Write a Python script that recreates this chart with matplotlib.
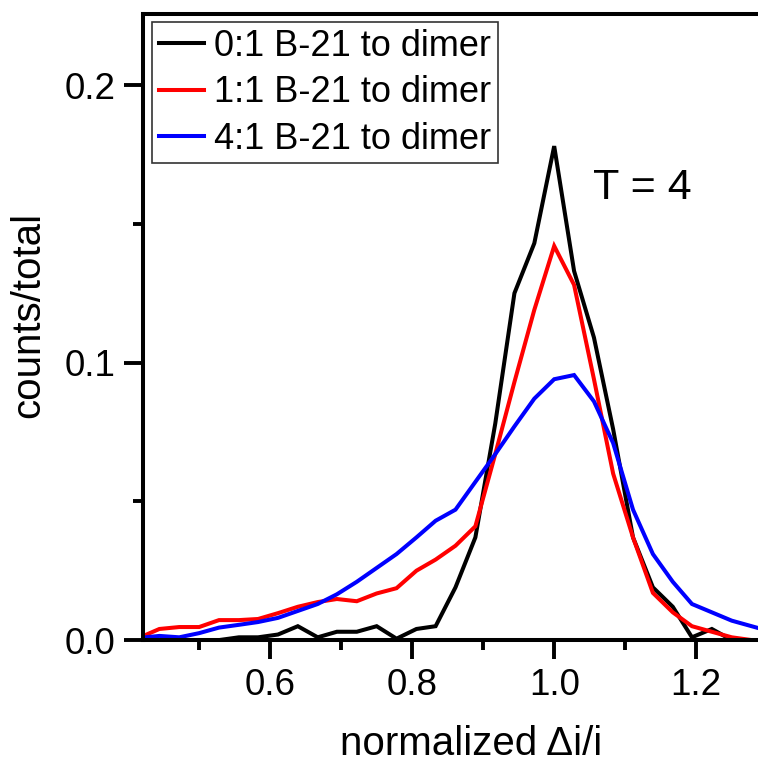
import matplotlib
matplotlib.use("Agg")
import matplotlib.pyplot as plt
from matplotlib.ticker import MultipleLocator

plt.rcParams['font.family'] = ['Liberation Sans', 'DejaVu Sans']

# bin centres of the normalized current drop histogram
x = [0.417, 0.444, 0.472, 0.500, 0.528, 0.556, 0.583, 0.611, 0.639, 0.667,
     0.694, 0.722, 0.750, 0.778, 0.806, 0.833, 0.861, 0.889, 0.917, 0.944,
     0.972, 1.000, 1.028, 1.056, 1.083, 1.111, 1.139, 1.167, 1.194, 1.222,
     1.250, 1.278, 1.306]

ratio_0_1 = [0.0, 0.0, 0.0, 0.0, 0.0, 0.001, 0.001, 0.002, 0.005, 0.001,
             0.003, 0.003, 0.005, 0.0005, 0.004, 0.005, 0.019, 0.037, 0.078, 0.125,
             0.143, 0.178, 0.133, 0.109, 0.076, 0.037, 0.019, 0.012, 0.001, 0.004,
             0.0, 0.0, 0.0]

ratio_1_1 = [0.001, 0.004, 0.0047, 0.0047, 0.0072, 0.0072, 0.0076, 0.0097, 0.012, 0.0137,
             0.0148, 0.014, 0.0168, 0.0187, 0.025, 0.029, 0.034, 0.041, 0.067, 0.093,
             0.119, 0.142, 0.128, 0.094, 0.060, 0.037, 0.017, 0.010, 0.005, 0.003,
             0.001, 0.0, 0.0]

ratio_4_1 = [0.0008, 0.0015, 0.001, 0.0025, 0.0045, 0.0055, 0.0065, 0.008, 0.0105, 0.013,
             0.0165, 0.021, 0.026, 0.031, 0.037, 0.043, 0.047, 0.057, 0.067, 0.077,
             0.087, 0.094, 0.0955, 0.086, 0.071, 0.047, 0.031, 0.021, 0.013, 0.010,
             0.007, 0.005, 0.003]

labels = ['0:1 B-21 to dimer', '1:1 B-21 to dimer', '4:1 B-21 to dimer']
colors = ['black', '#ff0000', '#0000ff']

fig = plt.figure(figsize=(7.58, 7.62), dpi=100)
ax = fig.add_axes([0.1887, 0.160, 0.8113, 0.8216])

for y, lab, c in zip([ratio_0_1, ratio_1_1, ratio_4_1], labels, colors):
    ax.plot(x, y, color=c, lw=2.9, label=lab, solid_joinstyle='miter')

ax.set_xlim(0.421, 1.287)
ax.set_ylim(0.0, 0.2256)

ax.xaxis.set_minor_locator(MultipleLocator(0.1))
ax.yaxis.set_minor_locator(MultipleLocator(0.05))
ax.set_xticks([0.6, 0.8, 1.0, 1.2])
ax.set_xticklabels(['0.6', '0.8', '1.0', '1.2'])
ax.set_yticks([0.0, 0.1, 0.2])
ax.set_yticklabels(['0.0', '0.1', '0.2'])

ax.tick_params(which='major', direction='out', length=14, width=2.8,
               labelsize=26.5, pad=6)
ax.tick_params(which='minor', direction='out', length=7, width=2.8)

for side in ['left', 'bottom', 'top']:
    ax.spines[side].set_linewidth(2.9)
ax.spines['right'].set_visible(False)

ax.set_xlabel('normalized \u0394i/i', fontsize=29)
ax.set_ylabel('counts/total', fontsize=29)
ax.xaxis.set_label_coords(0.533, -0.135)
ax.yaxis.set_label_coords(-0.156, 0.519)

ax.text(1.054, 0.163, 'T = 4', fontsize=31, va='center', ha='left')

leg = ax.legend(loc='upper left', bbox_to_anchor=(0.0146, 0.987),
                borderaxespad=0, fontsize=26, frameon=True, fancybox=False,
                handlelength=1.25, handletextpad=0.3, labelspacing=0.32,
                borderpad=0.18)
leg.get_frame().set_edgecolor('black')
leg.get_frame().set_linewidth(1.2)

fig.savefig('out.png', dpi=100)
